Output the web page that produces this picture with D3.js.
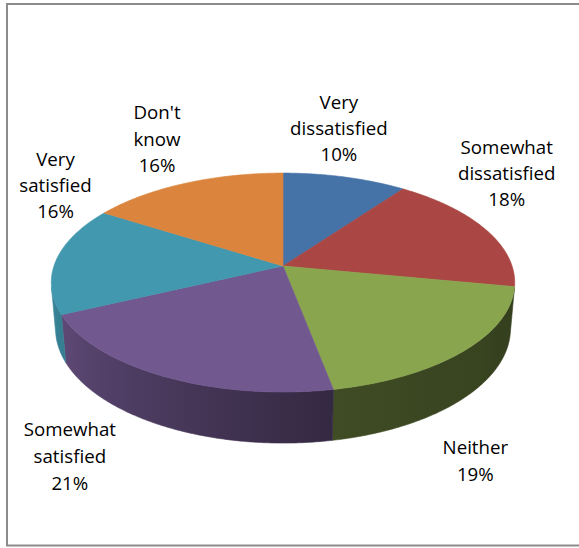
<!DOCTYPE html>
<html>
<head>
<meta charset="utf-8">
<script src="https://cdn.jsdelivr.net/npm/d3@7"></script>
<style>
  html, body { margin: 0; padding: 0; background: #fff; }
  svg { display: block; }
  text { font-family: "Open Sans", "Noto Sans", sans-serif; font-size: 18.7px; fill: #000; }
</style>
</head>
<body>
<svg id="chart" width="579" height="548"></svg>
<script>
// Survey responses (share of respondents)
const categories = ["Very dissatisfied", "Somewhat dissatisfied", "Neither",
                    "Somewhat satisfied", "Very satisfied", "Don't know"];
const values = [10, 18, 19, 21, 16, 16];

// Slice colours (top faces)
const topColors = ["#4572A7", "#AA4643", "#89A54E", "#71588F", "#4198AF", "#DB843D"];

// Label placement relative to each slice's rim anchor: [dx, dy of first baseline, line gap]
const labelLayout = [
  [-6, -68, 26],
  [22, -75, 26],
  [11, 103, 27.5],
  [-93, 60, 27],
  [-1, -93, 26],
  [-28.5, -64, 26.3]
];

const svg = d3.select("#chart");

// Frame
svg.append("rect")
  .attr("x", 7).attr("y", 4)
  .attr("width", 600).attr("height", 541.5)
  .attr("fill", "none").attr("stroke", "#8c8c8c").attr("stroke-width", 2);

// Perspective projection of a unit-radius disc seen from above
const P = { cx: 283, cy: 266, f: 1340, D: 5.85, elev: Math.asin(0.467), H: 0.23 };
const sinE = Math.sin(P.elev), cosE = Math.cos(P.elev);
function project(phi, r, h) {
  const u = r * Math.sin(phi), v = r * Math.cos(phi);
  const z = P.D + v * cosE - h * sinE;
  return [P.cx + P.f * u / z, P.cy - P.f * (v * sinE + h * cosE) / z];
}

// Angles clockwise from 12 o'clock
const arcs = d3.pie().sort(null).value(d => d).startAngle(0).endAngle(2 * Math.PI)(values);

const line = d3.line();
const step = Math.PI / 360;
function arcPoints(a0, a1, r, h) {
  const n = Math.max(2, Math.ceil((a1 - a0) / step));
  return d3.range(n + 1).map(i => project(a0 + (a1 - a0) * i / n, r, h));
}

// Outer wall faces the viewer only on the near part of the rim
const frontLimit = Math.acos(-1 / (P.D * cosE));
const frontStart = frontLimit, frontEnd = 2 * Math.PI - frontLimit;

// Wall shading by angle (darker toward the right-hand side)
const deg = d => d * 180 / Math.PI;
const darkness = d3.scaleLinear().domain([101, 169, 259]).range([0.63, 0.54, 0.1]).clamp(true);
const shade = (c, phi) => d3.interpolateRgb(c, "#000")(darkness(deg(phi)));

const defs = svg.append("defs");
const walls = svg.append("g");
arcs.forEach((a, i) => {
  const a0 = Math.max(a.startAngle, frontStart), a1 = Math.min(a.endAngle, frontEnd);
  if (a1 <= a0) return;
  const x0 = project(a0, 1, 0)[0], x1 = project(a1, 1, 0)[0];
  const grad = defs.append("linearGradient")
    .attr("id", "wall" + i).attr("gradientUnits", "userSpaceOnUse")
    .attr("x1", x0).attr("y1", 0).attr("x2", x1).attr("y2", 0);
  d3.range(0, 1.0001, 0.1).forEach(t => {
    const phi = a0 + (a1 - a0) * t;
    const x = project(phi, 1, 0)[0];
    grad.append("stop")
      .attr("offset", Math.abs(x1 - x0) < 1e-6 ? t : (x - x0) / (x1 - x0))
      .attr("stop-color", shade(topColors[i], phi));
  });
  const pts = arcPoints(a0, a1, 1, 0).concat(arcPoints(a0, a1, 1, -P.H).reverse());
  walls.append("path")
    .attr("d", line(pts) + "Z")
    .attr("fill", `url(#wall${i})`)
    .attr("stroke", `url(#wall${i})`).attr("stroke-width", 0.6);
});

// Top faces
const tops = svg.append("g");
arcs.forEach((a, i) => {
  const pts = [project(0, 0, 0)].concat(arcPoints(a.startAngle, a.endAngle, 1, 0));
  tops.append("path")
    .attr("d", line(pts) + "Z")
    .attr("fill", topColors[i])
    .attr("stroke", topColors[i]).attr("stroke-width", 0.6).attr("stroke-linejoin", "round");
});

// Data labels: category name (wrapped) and percentage
const total = d3.sum(values);
const pct = d3.format(".0%");
const labels = svg.append("g").attr("text-anchor", "middle");
arcs.forEach((a, i) => {
  const mid = (a.startAngle + a.endAngle) / 2;
  const [ax, ay] = project(mid, 1, 0);
  const [dx, dy, gap] = labelLayout[i];
  const lines = categories[i].split(" ").concat(pct(values[i] / total));
  const t = labels.append("text").attr("x", ax + dx).attr("y", ay + dy);
  lines.forEach((s, k) => {
    t.append("tspan").attr("x", ax + dx).attr("dy", k === 0 ? 0 : gap).text(s);
  });
});
</script>
</body>
</html>
